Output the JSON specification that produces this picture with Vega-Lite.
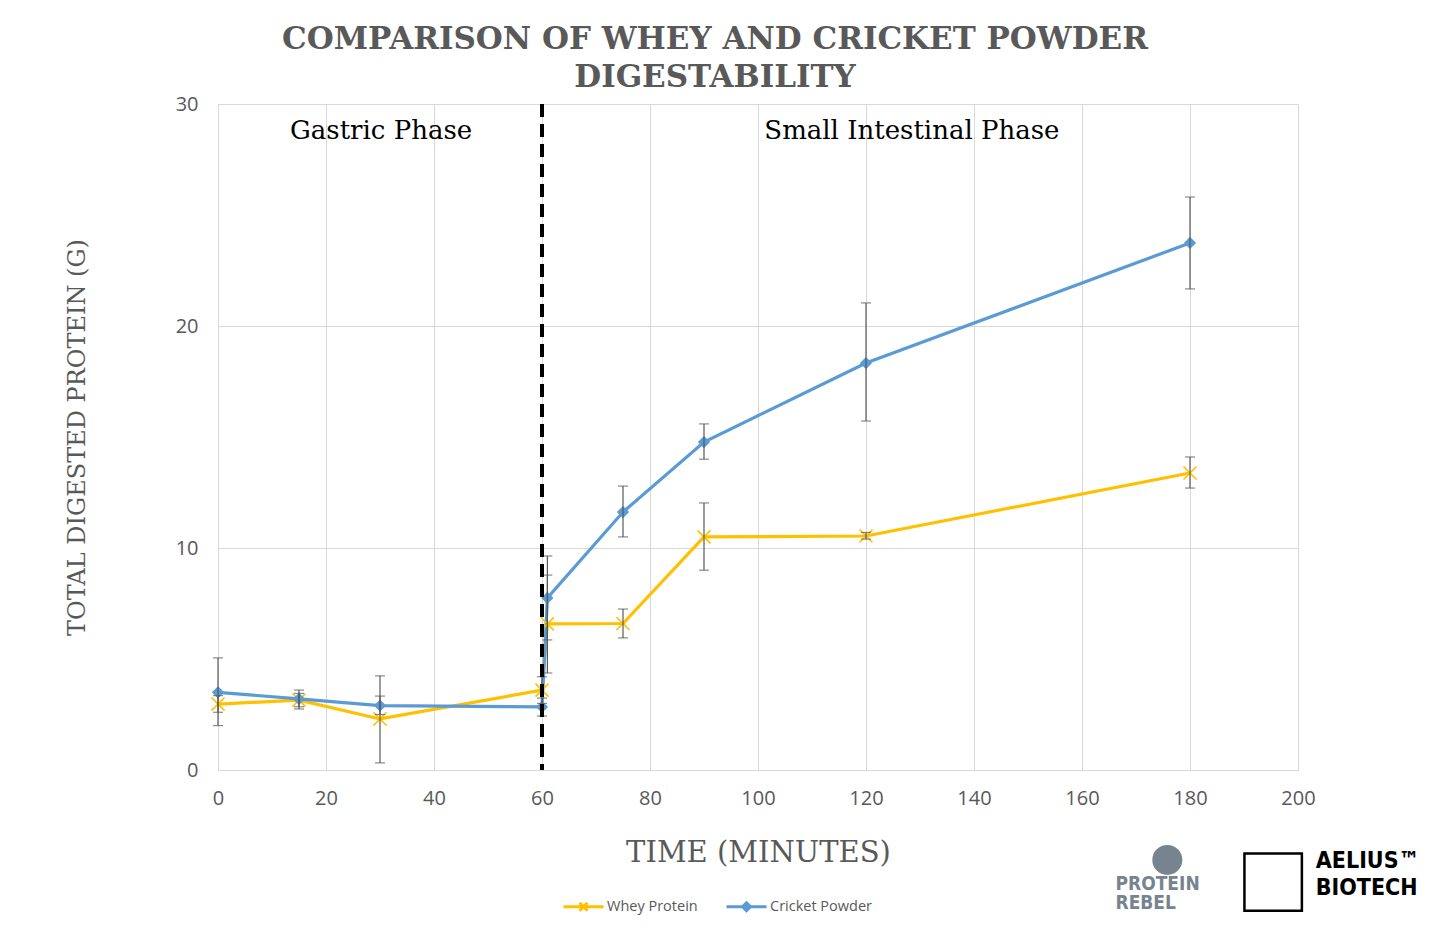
{
  "$schema": "https://vega.github.io/schema/vega-lite/v6.json",
  "autosize": {"type": "none"},
  "padding": {"left": 218, "top": 104, "right": 131, "bottom": 168},
  "width": 1080,
  "height": 666,
  "background": "white",
  "title": {
    "text": ["COMPARISON OF WHEY AND CRICKET POWDER", "DIGESTABILITY"],
    "font": "DejaVu Serif",
    "fontSize": 31,
    "fontWeight": "bold",
    "color": "#595959",
    "anchor": "middle",
    "lineHeight": 38,
    "offset": 0,
    "dx": -43
  },
  "config": {
    "view": {"stroke": null},
    "axis": {
      "gridColor": "#d9d9d9",
      "gridWidth": 1,
      "domain": false,
      "ticks": false,
      "labelFont": "Open Sans",
      "labelFontSize": 20,
      "labelColor": "#595959",
      "labelFlush": false,
      "titleFont": "DejaVu Serif",
      "titleFontWeight": "normal",
      "titleColor": "#595959"
    },
    "legend": {
      "labelFont": "Open Sans",
      "labelFontSize": 14.5,
      "labelColor": "#595959"
    }
  },
  "datasets": {
    "pts": [
      {"series": "Whey Protein", "t": 0, "v": 2.97, "lo": 2.6, "hi": 3.35},
      {"series": "Whey Protein", "t": 15, "v": 3.15, "lo": 2.85, "hi": 3.45},
      {"series": "Whey Protein", "t": 30, "v": 2.3, "lo": 0.32, "hi": 4.24},
      {"series": "Whey Protein", "t": 60, "v": 3.6, "lo": 3.0, "hi": 4.2},
      {"series": "Whey Protein", "t": 61, "v": 6.58, "lo": 4.37, "hi": 8.78},
      {"series": "Whey Protein", "t": 75, "v": 6.6, "lo": 5.95, "hi": 7.25},
      {"series": "Whey Protein", "t": 90, "v": 10.5, "lo": 9.0, "hi": 12.03},
      {"series": "Whey Protein", "t": 120, "v": 10.54, "lo": 10.4, "hi": 10.7},
      {"series": "Whey Protein", "t": 180, "v": 13.38, "lo": 12.7, "hi": 14.1},
      {"series": "Cricket Powder", "t": 0, "v": 3.5, "lo": 2.0, "hi": 5.05},
      {"series": "Cricket Powder", "t": 15, "v": 3.2, "lo": 2.75, "hi": 3.6},
      {"series": "Cricket Powder", "t": 30, "v": 2.9, "lo": 2.5, "hi": 3.33},
      {"series": "Cricket Powder", "t": 60, "v": 2.84, "lo": 2.43, "hi": 3.24},
      {"series": "Cricket Powder", "t": 61, "v": 7.75, "lo": 5.86, "hi": 9.64},
      {"series": "Cricket Powder", "t": 75, "v": 11.62, "lo": 10.5, "hi": 12.79},
      {"series": "Cricket Powder", "t": 90, "v": 14.77, "lo": 14.0, "hi": 15.59},
      {"series": "Cricket Powder", "t": 120, "v": 18.33, "lo": 15.72, "hi": 21.04},
      {"series": "Cricket Powder", "t": 180, "v": 23.74, "lo": 21.67, "hi": 25.81}
    ],
    "phases": [
      {"label": "Gastric Phase", "t": 30.2, "v": 28.8},
      {"label": "Small Intestinal Phase", "t": 128.5, "v": 28.8}
    ],
    "one": [{}]
  },
  "layer": [
    {
      "data": {"name": "pts"},
      "mark": {"type": "line", "strokeWidth": 3.2},
      "encoding": {
        "x": {
          "field": "t", "type": "quantitative",
          "scale": {"domain": [0, 200]},
          "axis": {"values": [0, 20, 40, 60, 80, 100, 120, 140, 160, 180, 200], "title": "TIME (MINUTES)", "titleFontSize": 29, "labelPadding": 18, "titlePadding": 30}
        },
        "y": {
          "field": "v", "type": "quantitative",
          "scale": {"domain": [0, 30]},
          "axis": {"values": [0, 10, 20, 30], "title": "TOTAL DIGESTED PROTEIN (G)", "titleFontSize": 24, "labelPadding": 20, "titlePadding": 86}
        },
        "color": {
          "field": "series", "type": "nominal",
          "scale": {"domain": ["Whey Protein", "Cricket Powder"], "range": ["#FFC000", "#5B9BD5"]},
          "legend": {
            "title": null,
            "orient": "none",
            "legendX": 344,
            "legendY": 781,
            "direction": "horizontal",
            "symbolSize": 1600,
            "symbolStrokeWidth": 3,
            "columnPadding": 22,
            "labelOffset": 2,
            "encode": {
              "symbols": {
                "update": {
                  "shape": {"signal": "datum.value === 'Whey Protein' ? 'M-1,0H1M-0.2,-0.2L0.2,0.2M-0.2,0.2L0.2,-0.2' : 'M-1,0H1M0,-0.2L0.2,0L0,0.2L-0.2,0Z'"},
                  "fill": {"signal": "datum.value === 'Whey Protein' ? 'transparent' : '#5B9BD5'"}
                }
              }
            }
          }
        }
      }
    },
    {
      "data": {"name": "pts"},
      "transform": [{"filter": "datum.series === 'Whey Protein'"}],
      "mark": {"type": "point", "shape": "M-1,-1L1,1M-1,1L1,-1", "filled": false, "size": 170, "strokeWidth": 1.6, "color": "#FFC000", "opacity": 1},
      "encoding": {
        "x": {"field": "t", "type": "quantitative"},
        "y": {"field": "v", "type": "quantitative"}
      }
    },
    {
      "data": {"name": "pts"},
      "transform": [{"filter": "datum.series === 'Cricket Powder'"}],
      "mark": {"type": "point", "shape": "diamond", "filled": true, "size": 150, "color": "#5B9BD5", "opacity": 1},
      "encoding": {
        "x": {"field": "t", "type": "quantitative"},
        "y": {"field": "v", "type": "quantitative"}
      }
    },
    {
      "data": {"name": "pts"},
      "mark": {"type": "errorbar", "color": "#595959", "thickness": 1.2, "ticks": {"size": 10, "color": "#595959", "thickness": 1.2}},
      "encoding": {
        "x": {"field": "t", "type": "quantitative"},
        "y": {"field": "lo", "type": "quantitative", "title": "TOTAL DIGESTED PROTEIN (G)"},
        "y2": {"field": "hi"}
      }
    },
    {
      "data": {"name": "one"},
      "mark": {"type": "rule", "color": "black", "strokeWidth": 4, "strokeDash": [13, 7]},
      "encoding": {"x": {"datum": 60}}
    },
    {
      "data": {"name": "phases"},
      "mark": {"type": "text", "font": "DejaVu Serif", "fontSize": 26, "color": "black", "baseline": "middle", "align": "center"},
      "encoding": {
        "x": {"field": "t", "type": "quantitative"},
        "y": {"field": "v", "type": "quantitative"},
        "text": {"field": "label"}
      }
    },
    {
      "data": {"name": "one"},
      "mark": {"type": "circle", "size": 900, "color": "#77848f", "opacity": 1, "clip": false},
      "encoding": {"x": {"datum": 175.8}, "y": {"datum": -4.05}}
    },
    {
      "data": {"name": "one"},
      "mark": {"type": "text", "text": ["PROTEIN", "REBEL"], "font": "DejaVu Sans Condensed", "fontWeight": "bold", "fontSize": 19, "lineHeight": 19, "color": "#77848f", "align": "left", "baseline": "top", "clip": false},
      "encoding": {"x": {"datum": 166.2}, "y": {"datum": -4.75}}
    },
    {
      "data": {"name": "one"},
      "mark": {"type": "point", "shape": "square", "size": 3300, "filled": false, "color": "black", "strokeWidth": 2.5, "opacity": 1, "clip": false},
      "encoding": {"x": {"datum": 195.4}, "y": {"datum": -5.05}}
    },
    {
      "data": {"name": "one"},
      "mark": {"type": "text", "text": ["AELIUS™", "BIOTECH"], "font": "DejaVu Sans Condensed", "fontWeight": "bold", "fontSize": 23, "lineHeight": 27, "color": "black", "align": "left", "baseline": "top", "clip": false},
      "encoding": {"x": {"datum": 203.3}, "y": {"datum": -3.6}}
    }
  ]
}
